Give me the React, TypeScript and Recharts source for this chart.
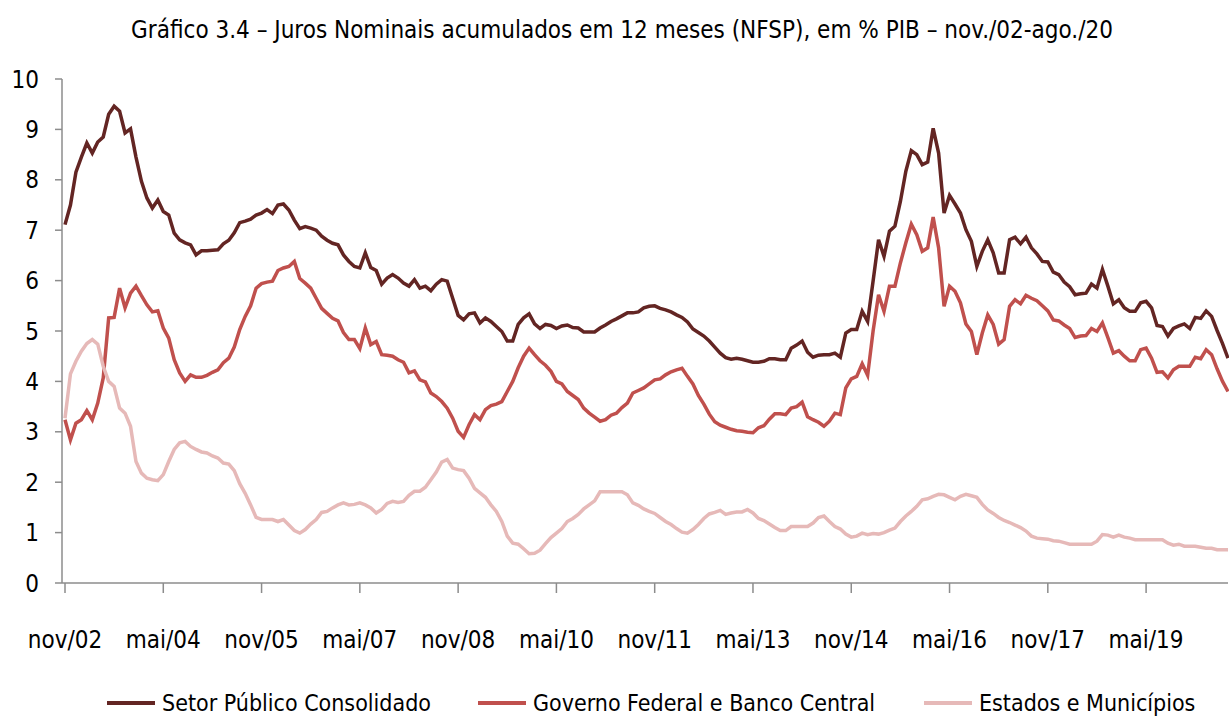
import { LineChart, Line, XAxis, YAxis } from 'recharts';

const MESES = ['jan', 'fev', 'mar', 'abr', 'mai', 'jun', 'jul', 'ago', 'set', 'out', 'nov', 'dez'];

// nov/02 .. ago/20, monthly
const setorPublico = [
  7.11, 7.5, 8.15, 8.45, 8.73, 8.53, 8.75, 8.85, 9.3, 9.46, 9.36, 8.93, 9.01, 8.45, 7.97, 7.64, 7.44, 7.6, 7.37, 7.3, 6.94, 6.81, 6.75, 6.71, 6.51, 6.59,
  6.59, 6.6, 6.61, 6.73, 6.8, 6.95, 7.15, 7.18, 7.22, 7.3, 7.34, 7.41, 7.33, 7.5, 7.52, 7.4, 7.2, 7.03, 7.07, 7.04, 7.0, 6.88, 6.8, 6.74, 6.71, 6.51,
  6.38, 6.28, 6.25, 6.55, 6.26, 6.2, 5.93, 6.05, 6.12, 6.05, 5.95, 5.89, 6.02, 5.85, 5.89, 5.8, 5.93, 6.02, 5.99, 5.65, 5.31, 5.22, 5.34, 5.36, 5.16, 5.26, 5.19, 5.09,
  4.99, 4.8, 4.8, 5.13, 5.26, 5.34, 5.14, 5.05, 5.13, 5.11, 5.05, 5.1, 5.12, 5.07, 5.06, 4.98, 4.98, 4.98, 5.06, 5.12, 5.19, 5.24, 5.3, 5.36, 5.36,
  5.38, 5.46, 5.49, 5.5, 5.45, 5.42, 5.38, 5.32, 5.27, 5.18, 5.04, 4.97, 4.9, 4.8, 4.68, 4.56, 4.47, 4.44, 4.46, 4.44, 4.41, 4.38, 4.38, 4.4, 4.45, 4.45, 4.43, 4.43,
  4.66, 4.72, 4.8, 4.58, 4.48, 4.52, 4.53, 4.53, 4.56, 4.48, 4.96, 5.03, 5.03, 5.39, 5.19, 5.99, 6.81, 6.48, 6.98, 7.08, 7.57, 8.17, 8.58, 8.5, 8.3,
  8.35, 9.02, 8.53, 7.34, 7.69, 7.52, 7.34, 7.01, 6.78, 6.28, 6.58, 6.81, 6.55, 6.15, 6.15, 6.81, 6.86, 6.73, 6.86, 6.65, 6.53, 6.38, 6.37, 6.17, 6.12,
  5.97, 5.88, 5.72,
  5.74, 5.75, 5.93, 5.85, 6.22, 5.89, 5.54, 5.62, 5.46, 5.39, 5.39, 5.56, 5.59, 5.46, 5.11, 5.09, 4.9, 5.05, 5.1, 5.14, 5.05, 5.27, 5.25, 5.4, 5.29, 5.01, 4.75, 4.46,
];

const governoFederal = [
  3.24, 2.84, 3.17, 3.24, 3.42, 3.24, 3.57, 4.07, 5.26, 5.27, 5.85, 5.46, 5.75, 5.89, 5.7, 5.52, 5.38, 5.4, 5.06, 4.86, 4.43, 4.17, 4.0, 4.13, 4.08, 4.08,
  4.12, 4.18, 4.23, 4.37, 4.46, 4.68, 5.03, 5.29, 5.5, 5.85, 5.94, 5.97, 5.99, 6.2, 6.25, 6.28, 6.38, 6.04, 5.95, 5.85, 5.65, 5.45, 5.35, 5.25, 5.2, 4.97,
  4.83, 4.83, 4.65, 5.06, 4.73, 4.79, 4.53, 4.52, 4.5, 4.43, 4.38, 4.17, 4.21, 4.03, 3.99, 3.77, 3.7, 3.6, 3.47, 3.27, 3.01, 2.89, 3.14, 3.34, 3.24, 3.44, 3.52, 3.55,
  3.6, 3.8, 4.0, 4.27, 4.5, 4.66, 4.53, 4.41, 4.32, 4.2, 4.0, 3.95, 3.8, 3.72, 3.64, 3.47, 3.37, 3.29, 3.21, 3.24, 3.33, 3.37, 3.48, 3.57, 3.77,
  3.82, 3.87, 3.95, 4.03, 4.05, 4.13, 4.19, 4.23, 4.26, 4.1, 3.95, 3.72, 3.55, 3.35, 3.2, 3.13, 3.09, 3.05, 3.02, 3.01, 2.99, 2.98, 3.08, 3.12, 3.25, 3.36, 3.36, 3.34,
  3.47, 3.5, 3.59, 3.3, 3.24, 3.19, 3.11, 3.21, 3.37, 3.34, 3.87, 4.05, 4.1, 4.35, 4.12, 5.0, 5.72, 5.39, 5.89, 5.89, 6.35, 6.75, 7.12, 6.91, 6.58,
  6.65, 7.26, 6.65, 5.49, 5.89, 5.79, 5.56, 5.14, 4.99, 4.53, 4.96, 5.32, 5.13, 4.74, 4.83, 5.49, 5.62, 5.54, 5.71, 5.65, 5.6, 5.5, 5.4, 5.22, 5.2,
  5.12, 5.05, 4.87,
  4.9, 4.91, 5.05, 4.99, 5.16, 4.87, 4.56, 4.61, 4.5, 4.41, 4.41, 4.63, 4.66, 4.46, 4.18, 4.19, 4.07, 4.23, 4.3, 4.3, 4.3, 4.48, 4.45, 4.63, 4.53, 4.25, 4.0, 3.8,
];

const estadosMunicipios = [
  3.27, 4.15, 4.4, 4.6, 4.75, 4.83, 4.74, 4.3, 4.0, 3.9, 3.47, 3.37, 3.11, 2.41, 2.18, 2.08, 2.05, 2.03, 2.15, 2.41, 2.65, 2.78, 2.81, 2.71, 2.65, 2.6,
  2.58, 2.52, 2.48, 2.38, 2.36, 2.23, 1.97, 1.78, 1.55, 1.3, 1.26, 1.26, 1.26, 1.22, 1.26, 1.15, 1.04, 0.99, 1.06, 1.17, 1.26, 1.4, 1.42, 1.49, 1.55, 1.59, 1.55,
  1.56, 1.59, 1.55, 1.49, 1.39, 1.46, 1.58, 1.62, 1.6, 1.62, 1.74, 1.82, 1.82, 1.9, 2.05, 2.2, 2.4, 2.45, 2.28, 2.25, 2.23, 2.08, 1.88, 1.79, 1.7, 1.55, 1.42,
  1.22, 0.93, 0.79, 0.77, 0.68, 0.58, 0.59, 0.65, 0.78, 0.9, 0.99, 1.08, 1.22, 1.28, 1.36, 1.47, 1.55, 1.63, 1.81, 1.81, 1.81, 1.81, 1.81, 1.75, 1.59, 1.54,
  1.47, 1.42, 1.38, 1.3, 1.22, 1.16, 1.08, 1.01, 0.99, 1.06, 1.16, 1.28, 1.37, 1.4, 1.44, 1.36, 1.39, 1.41, 1.41, 1.46, 1.39, 1.28, 1.24, 1.17, 1.1, 1.04, 1.04,
  1.12, 1.12, 1.12, 1.12, 1.19, 1.3, 1.33, 1.22, 1.12, 1.07, 0.97, 0.91, 0.93, 0.99, 0.96, 0.98, 0.97, 1.0, 1.05, 1.09, 1.22, 1.33, 1.42, 1.52, 1.65, 1.67, 1.72,
  1.76, 1.75, 1.7, 1.65, 1.72, 1.76, 1.73, 1.7, 1.56, 1.45, 1.38, 1.3, 1.24, 1.2, 1.15, 1.1, 1.03, 0.93, 0.89, 0.88, 0.87, 0.84, 0.83, 0.8, 0.77, 0.77,
  0.77, 0.77, 0.77, 0.83, 0.96, 0.95, 0.91, 0.95, 0.91, 0.89, 0.86, 0.86, 0.86, 0.86, 0.86, 0.86, 0.79, 0.75, 0.77, 0.73, 0.73, 0.73, 0.71, 0.69, 0.69, 0.66, 0.66, 0.66,
];

const yTicks = [0, 1, 2, 3, 4, 5, 6, 7, 8, 9, 10];

const meses = setorPublico.map((_, i) => {
  const k = 10 + i;
  const ano = 2002 + Math.floor(k / 12);
  return `${MESES[k % 12]}/${String(ano % 100).padStart(2, '0')}`;
});

const data = meses.map((mes, i) => ({
  mes,
  setor: setorPublico[i],
  governo: governoFederal[i],
  estados: estadosMunicipios[i],
}));

const FONT = "'DejaVu Sans Condensed', Lato, sans-serif";
const AXIS = '#8c8c8c';

const series = [
  { key: 'setor', name: 'Setor Público Consolidado', color: '#632523', left: 107 },
  { key: 'governo', name: 'Governo Federal e Banco Central', color: '#c0504d', left: 478 },
  { key: 'estados', name: 'Estados e Municípios', color: '#e6b9b8', left: 924 },
];

export default function App() {
  return (
    <div style={{ position: 'absolute', left: 0, top: 0, width: 1229, height: 716, background: '#fff', fontFamily: FONT, color: '#000' }}>
      <div style={{ position: 'absolute', top: 15, left: 0, width: 1244, textAlign: 'center', fontSize: 24, lineHeight: '30px' }}>
        Gráfico 3.4 – Juros Nominais acumulados em 12 meses (NFSP), em % PIB – nov./02-ago./20
      </div>
      <LineChart
        width={1229}
        height={716}
        data={data}
        margin={{ top: 79, right: 1, bottom: 0, left: 0 }}
        style={{ position: 'absolute', left: 0, top: 0 }}
      >
        <XAxis
          dataKey="mes"
          interval={17}
          padding={{ left: 3, right: 0 }}
          height={133}
          tickSize={10}
          tickMargin={38}
          stroke={AXIS}
          strokeWidth={1.5}
          tick={{ fill: '#000', fontSize: 24, fontFamily: FONT }}
        />
        <YAxis
          domain={[0, 10]}
          ticks={yTicks}
          width={62}
          tickSize={7}
          tickMargin={16}
          stroke={AXIS}
          strokeWidth={1.5}
          tick={{ fill: '#000', fontSize: 24, fontFamily: FONT }}
        />
        {series.map((s) => (
          <Line
            key={s.key}
            type="linear"
            dataKey={s.key}
            name={s.name}
            stroke={s.color}
            strokeWidth={3.5}
            dot={false}
            isAnimationActive={false}
          />
        ))}
      </LineChart>
      {series.map((s) => (
        <div key={s.key} style={{ position: 'absolute', left: s.left, top: 688, height: 30, display: 'flex', alignItems: 'center', fontSize: 23, whiteSpace: 'nowrap' }}>
          <span style={{ display: 'inline-block', width: 48, height: 4, background: s.color, marginRight: 7 }} />
          <span>{s.name}</span>
        </div>
      ))}
    </div>
  );
}
